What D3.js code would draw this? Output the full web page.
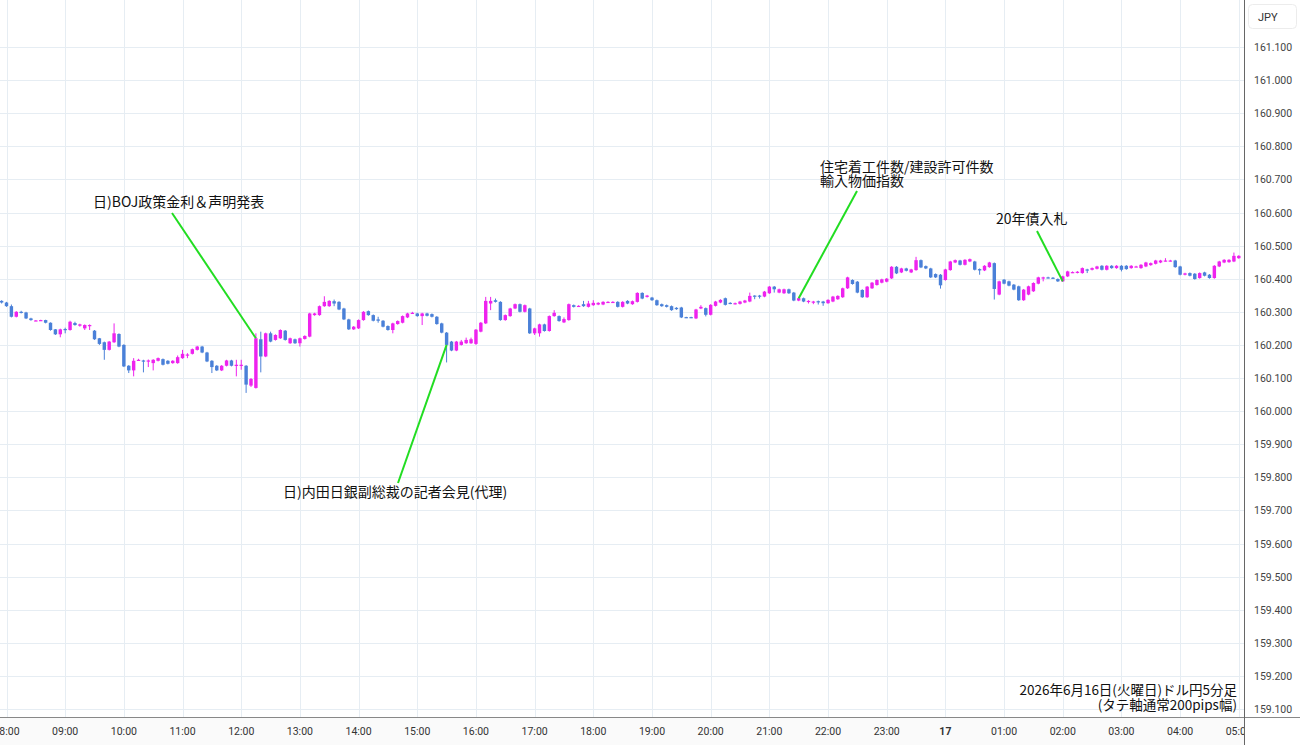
<!DOCTYPE html>
<html>
<head>
<meta charset="utf-8">
<style>
  body { margin: 0; background: #fff; }
  svg { display: block; }
</style>
</head>
<body>
<svg id="chart" width="1300" height="745"></svg>
<script src="https://cdnjs.cloudflare.com/ajax/libs/d3/7.8.5/d3.min.js"></script>
<script>
// 5 minute USD/JPY candles, first candle 07:55 (one row = one hour)
const firstCandle = "2026-06-16T07:55:00";

const opens = [
  160.333,
  160.328,160.317,160.285,160.300,160.298,160.280,160.273,160.274,160.275,160.267,160.247,160.232,
  160.248,160.245,160.266,160.258,160.250,160.259,160.243,160.220,160.208,160.185,160.208,160.233,
  160.200,160.137,160.123,160.154,160.153,160.150,160.145,160.152,160.157,160.152,160.145,160.145,
  160.160,160.170,160.173,160.185,160.195,160.177,160.152,160.137,160.123,160.137,160.153,160.139,
  160.139,160.137,160.077,160.070,160.217,160.165,160.235,160.215,160.220,160.243,160.205,160.217,
  160.205,160.218,160.225,160.290,160.290,160.317,160.317,160.332,160.330,160.310,160.277,160.247,
  160.250,160.275,160.302,160.290,160.277,160.273,160.257,160.245,160.263,160.267,160.283,160.296,
  160.295,160.287,160.295,160.293,160.285,160.265,160.237,160.210,160.183,160.200,160.205,160.205,
  160.203,160.240,160.265,160.325,160.335,160.330,160.275,160.287,160.310,160.323,160.300,160.310,
  160.235,160.235,160.262,160.242,160.287,160.287,160.268,160.275,160.320,160.317,160.323,160.315,
  160.320,160.322,160.322,160.329,160.329,160.330,160.315,160.333,160.323,160.330,160.357,160.345,
  160.343,160.335,160.323,160.320,160.317,160.312,160.313,160.284,160.284,160.280,160.310,160.311,
  160.291,160.318,160.328,160.341,160.327,160.325,160.324,160.328,160.331,160.349,160.349,160.346,
  160.356,160.376,160.358,160.356,160.368,160.358,160.334,160.341,160.332,160.330,160.332,160.331,
  160.326,160.331,160.338,160.344,160.371,160.396,160.391,160.366,160.344,160.371,160.381,160.388,
  160.391,160.401,160.436,160.419,160.431,160.419,160.426,160.456,160.438,160.431,160.414,160.412,
  160.396,160.426,160.449,160.455,160.442,160.452,160.452,160.429,160.425,160.435,160.447,160.352,
  160.397,160.392,160.382,160.377,160.335,160.352,160.362,160.385,160.403,160.404,160.403,160.399,
  160.392,160.407,160.419,160.418,160.417,160.428,160.427,160.430,160.439,160.427,160.439,160.432,
  160.439,160.439,160.432,160.436,160.432,160.437,160.441,160.445,160.449,160.454,160.454,160.455,
  160.437,160.412,160.417,160.415,160.402,160.419,160.412,160.402,160.437,160.449,160.450,160.452,
  160.462
];

const closes = [
  160.328,
  160.317,160.285,160.300,160.298,160.280,160.275,160.274,160.275,160.267,160.245,160.232,160.247,
  160.246,160.270,160.260,160.262,160.260,160.260,160.217,160.203,160.185,160.210,160.235,160.195,
  160.135,160.123,160.152,160.155,160.151,160.153,160.155,160.160,160.140,160.143,160.152,160.163,
  160.173,160.171,160.187,160.195,160.177,160.150,160.133,160.123,160.137,160.153,160.137,160.140,
  160.140,160.080,160.097,160.220,160.165,160.235,160.210,160.230,160.245,160.215,160.220,160.205,
  160.220,160.227,160.295,160.295,160.317,160.330,160.333,160.325,160.307,160.277,160.247,160.255,
  160.275,160.300,160.290,160.273,160.273,160.255,160.245,160.265,160.272,160.287,160.295,160.297,
  160.287,160.295,160.288,160.285,160.263,160.237,160.200,160.183,160.210,160.210,160.215,160.217,
  160.246,160.267,160.333,160.333,160.330,160.275,160.290,160.310,160.323,160.300,160.320,160.235,
  160.250,160.262,160.242,160.287,160.297,160.272,160.278,160.323,160.315,160.318,160.317,160.325,
  160.327,160.327,160.330,160.330,160.330,160.315,160.330,160.325,160.332,160.357,160.340,160.349,
  160.335,160.320,160.317,160.315,160.305,160.308,160.283,160.283,160.283,160.307,160.315,160.291,
  160.321,160.331,160.336,160.321,160.325,160.326,160.331,160.334,160.348,160.348,160.348,160.361,
  160.376,160.368,160.368,160.368,160.356,160.334,160.341,160.331,160.333,160.331,160.331,160.326,
  160.336,160.346,160.348,160.371,160.404,160.384,160.358,160.344,160.376,160.388,160.396,160.398,
  160.400,160.436,160.416,160.431,160.424,160.428,160.456,160.434,160.431,160.404,160.404,160.380,
  160.428,160.452,160.456,160.442,160.457,160.459,160.427,160.425,160.439,160.449,160.369,160.392,
  160.385,160.379,160.367,160.335,160.367,160.377,160.387,160.404,160.404,160.403,160.402,160.392,
  160.407,160.422,160.420,160.421,160.432,160.427,160.432,160.437,160.427,160.439,160.432,160.439,
  160.427,160.429,160.439,160.437,160.442,160.449,160.447,160.455,160.455,160.455,160.455,160.435,
  160.412,160.416,160.409,160.399,160.417,160.409,160.402,160.439,160.452,160.457,160.457,160.469,
  160.469
];

const highs = [
  160.335,
  160.330,160.322,160.302,160.303,160.300,160.282,160.275,160.276,160.276,160.268,160.248,160.249,
  160.252,160.273,160.270,160.264,160.262,160.262,160.245,160.221,160.210,160.212,160.265,160.235,
  160.202,160.139,160.160,160.158,160.155,160.156,160.157,160.162,160.159,160.154,160.154,160.168,
  160.185,160.175,160.189,160.197,160.197,160.179,160.154,160.139,160.139,160.155,160.155,160.155,
  160.155,160.139,160.100,160.235,160.240,160.237,160.240,160.232,160.247,160.245,160.222,160.219,
  160.222,160.229,160.297,160.297,160.319,160.347,160.335,160.337,160.332,160.312,160.279,160.257,
  160.277,160.302,160.304,160.292,160.285,160.275,160.259,160.267,160.274,160.289,160.297,160.300,
  160.297,160.297,160.297,160.295,160.287,160.267,160.239,160.212,160.212,160.215,160.222,160.222,
  160.248,160.269,160.345,160.345,160.340,160.332,160.292,160.312,160.325,160.325,160.322,160.312,
  160.252,160.264,160.264,160.289,160.305,160.289,160.283,160.325,160.322,160.320,160.333,160.333,
  160.335,160.329,160.332,160.332,160.332,160.332,160.332,160.335,160.334,160.359,160.359,160.351,
  160.345,160.337,160.325,160.322,160.319,160.314,160.315,160.285,160.285,160.309,160.320,160.313,
  160.323,160.333,160.338,160.343,160.329,160.328,160.333,160.336,160.358,160.350,160.351,160.363,
  160.378,160.378,160.370,160.370,160.370,160.360,160.343,160.343,160.335,160.333,160.334,160.333,
  160.338,160.348,160.350,160.373,160.406,160.398,160.393,160.368,160.378,160.390,160.398,160.400,
  160.402,160.438,160.438,160.433,160.433,160.430,160.466,160.458,160.440,160.433,160.416,160.414,
  160.430,160.454,160.458,160.457,160.459,160.461,160.454,160.431,160.441,160.451,160.449,160.394,
  160.399,160.394,160.384,160.379,160.369,160.379,160.389,160.406,160.406,160.406,160.405,160.401,
  160.409,160.424,160.422,160.423,160.434,160.430,160.434,160.439,160.441,160.441,160.441,160.441,
  160.441,160.441,160.441,160.439,160.444,160.451,160.449,160.457,160.457,160.462,160.457,160.457,
  160.439,160.418,160.419,160.417,160.419,160.421,160.414,160.441,160.454,160.459,160.459,160.479,
  160.471
];

const lows = [
  160.325,
  160.315,160.283,160.283,160.295,160.278,160.273,160.272,160.273,160.265,160.243,160.230,160.223,
  160.235,160.243,160.258,160.255,160.245,160.245,160.215,160.200,160.155,160.183,160.206,160.193,
  160.133,160.115,160.105,160.152,160.117,160.133,160.123,160.150,160.138,160.141,160.143,160.143,
  160.158,160.160,160.171,160.183,160.175,160.148,160.115,160.121,160.121,160.135,160.135,160.105,
  160.125,160.055,160.073,160.068,160.117,160.163,160.208,160.213,160.218,160.213,160.203,160.203,
  160.195,160.216,160.223,160.288,160.288,160.315,160.315,160.317,160.305,160.275,160.245,160.245,
  160.248,160.273,160.288,160.271,160.267,160.253,160.243,160.235,160.261,160.265,160.281,160.294,
  160.285,160.260,160.286,160.283,160.261,160.235,160.147,160.181,160.181,160.198,160.203,160.203,
  160.200,160.238,160.263,160.305,160.328,160.273,160.273,160.285,160.308,160.298,160.298,160.233,
  160.230,160.225,160.240,160.240,160.285,160.270,160.266,160.273,160.313,160.315,160.315,160.313,
  160.318,160.320,160.320,160.327,160.327,160.313,160.313,160.323,160.321,160.328,160.338,160.343,
  160.333,160.318,160.315,160.313,160.303,160.306,160.281,160.281,160.281,160.278,160.308,160.286,
  160.289,160.316,160.326,160.319,160.323,160.322,160.322,160.326,160.329,160.338,160.340,160.344,
  160.354,160.358,160.356,160.354,160.354,160.332,160.332,160.329,160.325,160.323,160.322,160.318,
  160.324,160.329,160.336,160.342,160.369,160.382,160.356,160.342,160.342,160.369,160.379,160.386,
  160.389,160.399,160.414,160.417,160.422,160.417,160.424,160.432,160.429,160.402,160.402,160.370,
  160.394,160.424,160.447,160.440,160.440,160.450,160.425,160.412,160.423,160.433,160.337,160.350,
  160.383,160.377,160.365,160.333,160.333,160.350,160.360,160.383,160.392,160.401,160.400,160.390,
  160.390,160.405,160.417,160.416,160.415,160.417,160.425,160.428,160.425,160.425,160.430,160.430,
  160.422,160.427,160.430,160.435,160.430,160.435,160.439,160.443,160.447,160.452,160.452,160.433,
  160.410,160.410,160.407,160.397,160.400,160.407,160.400,160.400,160.435,160.447,160.448,160.450,
  160.460
];

// event annotations
const eventTexts = [
  ["日)BOJ政策金利＆声明発表"],
  ["日)内田日銀副総裁の記者会見(代理)"],
  ["住宅着工件数/建設許可件数", "輸入物価指数"],
  ["20年債入札"]
];
const eventTimes = ["2026-06-16T12:15:00", "2026-06-16T15:30:00", "2026-06-16T21:30:00", "2026-06-17T02:00:00"];

const captionLines = ["2026年6月16日(火曜日)ドル円5分足", "(タテ軸通常200pips幅)"];
const currency = "JPY";

// ---------- layout ----------
const W = 1300, H = 745;
const plotRight = 1244, plotBottom = 717;
const upColor = "#ee22ee", downColor = "#4a80d8";
const gridColor = "#e6edf3";
const jp = "'Noto Sans CJK JP', 'Noto Sans', sans-serif";
const latin = "Roboto, 'Liberation Sans', sans-serif";

const parse = d3.isoParse;
const t0 = parse(firstCandle);
const candles = closes.map((c, i) => ({
  t: d3.timeMinute.offset(t0, 5 * i),
  o: opens[i], h: highs[i], l: lows[i], c: c
}));

const x = d3.scaleTime()
  .domain([parse("2026-06-16T08:00:00"), parse("2026-06-17T05:00:00")])
  .range([6.5, 1238.8]);
const y = d3.scaleLinear().domain([159.1, 161.1]).range([709, 47]);
const step = x(d3.timeMinute.offset(t0, 5)) - x(t0);
const bodyW = step * 0.7;

const svg = d3.select("#chart");
svg.append("rect").attr("width", W).attr("height", H).attr("fill", "#fff");
svg.append("rect").attr("x", 0).attr("y", plotBottom).attr("width", plotRight).attr("height", H - plotBottom).attr("fill", "#fafafa");

const defs = svg.append("defs");
defs.append("clipPath").attr("id", "plotClip")
  .append("rect").attr("x", 0).attr("y", 0).attr("width", plotRight).attr("height", plotBottom);
defs.append("clipPath").attr("id", "xClip")
  .append("rect").attr("x", 0).attr("y", plotBottom).attr("width", plotRight).attr("height", H - plotBottom);

const plot = svg.append("g").attr("clip-path", "url(#plotClip)");

// grid
const hours = d3.timeHour.range(parse("2026-06-16T07:00:00"), parse("2026-06-17T06:00:00"));
const yTicks = y.ticks(25);
plot.append("g").selectAll("line").data(hours).join("line")
  .attr("x1", d => Math.round(x(d)) + 0.5).attr("x2", d => Math.round(x(d)) + 0.5)
  .attr("y1", 0).attr("y2", plotBottom)
  .attr("stroke", gridColor).attr("stroke-width", 1);
plot.append("g").selectAll("line").data(yTicks).join("line")
  .attr("y1", d => Math.round(y(d)) + 0.5).attr("y2", d => Math.round(y(d)) + 0.5)
  .attr("x1", 0).attr("x2", plotRight)
  .attr("stroke", gridColor).attr("stroke-width", 1);

// candles
const cg = plot.append("g").selectAll("g").data(candles).join("g");
cg.append("line")
  .attr("x1", d => x(d.t)).attr("x2", d => x(d.t))
  .attr("y1", d => y(d.h)).attr("y2", d => y(d.l))
  .attr("stroke", d => d.c >= d.o ? upColor : downColor).attr("stroke-width", 1);
cg.append("rect")
  .attr("x", d => x(d.t) - bodyW / 2)
  .attr("width", bodyW)
  .attr("y", d => y(Math.max(d.o, d.c)))
  .attr("height", d => Math.max(1.2, Math.abs(y(d.o) - y(d.c))))
  .attr("fill", d => d.c >= d.o ? upColor : downColor);

// event annotations
const eventLayout = [
  { tx: 93, ty: 207, lx: 172, ly: 213 },
  { tx: 283, ty: 497, lx: 398, ly: 483 },
  { tx: 820, ty: 172, lx: 857, ly: 191 },
  { tx: 996, ty: 224, lx: 1037, ly: 231 }
];
const byTime = new Map(candles.map(d => [+d.t, d]));
eventTexts.forEach((lines, i) => {
  const L = eventLayout[i];
  const cd = byTime.get(+parse(eventTimes[i]));
  plot.append("line")
    .attr("x1", L.lx).attr("y1", L.ly)
    .attr("x2", x(cd.t)).attr("y2", y(i === 3 ? cd.o : cd.c))
    .attr("stroke", "#22dd22").attr("stroke-width", 2);
  const t = plot.append("text")
    .attr("x", L.tx).attr("y", L.ty)
    .attr("font-family", jp).attr("font-size", 14).attr("fill", "#111");
  lines.forEach((s, k) => t.append("tspan").attr("x", L.tx).attr("dy", k === 0 ? 0 : 14).text(s));
});

// caption bottom right
const cap = plot.append("text")
  .attr("x", 1237).attr("y", 695)
  .attr("text-anchor", "end")
  .attr("font-family", jp).attr("font-size", 13.5).attr("fill", "#111");
captionLines.forEach((s, k) => cap.append("tspan").attr("x", 1237).attr("dy", k === 0 ? 0 : 14.5).text(s));

// x axis
svg.append("line").attr("x1", 0).attr("x2", W).attr("y1", plotBottom + 0.5).attr("y2", plotBottom + 0.5)
  .attr("stroke", "#888");
const xg = svg.append("g").attr("clip-path", "url(#xClip)");
xg.selectAll("text").data(hours).join("text")
  .attr("x", d => x(d)).attr("y", 735)
  .attr("text-anchor", "middle")
  .attr("font-family", latin).attr("font-size", 10.5)
  .attr("font-weight", d => d.getHours() === 0 ? "bold" : "normal")
  .attr("fill", "#333")
  .text(d => d.getHours() === 0 ? d3.timeFormat("%-d")(d) : d3.timeFormat("%H:%M")(d));

// y axis
svg.append("line").attr("x1", plotRight + 0.5).attr("x2", plotRight + 0.5).attr("y1", 0).attr("y2", H)
  .attr("stroke", "#666");
svg.append("g").selectAll("text").data(yTicks.filter(d => d < 161.15)).join("text")
  .attr("x", 1254).attr("y", d => y(d) + 4)
  .attr("font-family", latin).attr("font-size", 10.5).attr("fill", "#444")
  .text(d3.format(".3f"));

svg.append("rect").attr("x", 1248.5).attr("y", 4.5).attr("width", 48).attr("height", 24).attr("rx", 4)
  .attr("fill", "#fff").attr("stroke", "#ececec");
svg.append("text").attr("x", 1258).attr("y", 20.5)
  .attr("font-family", latin).attr("font-size", 11).attr("fill", "#333")
  .text(currency);
</script>
</body>
</html>
